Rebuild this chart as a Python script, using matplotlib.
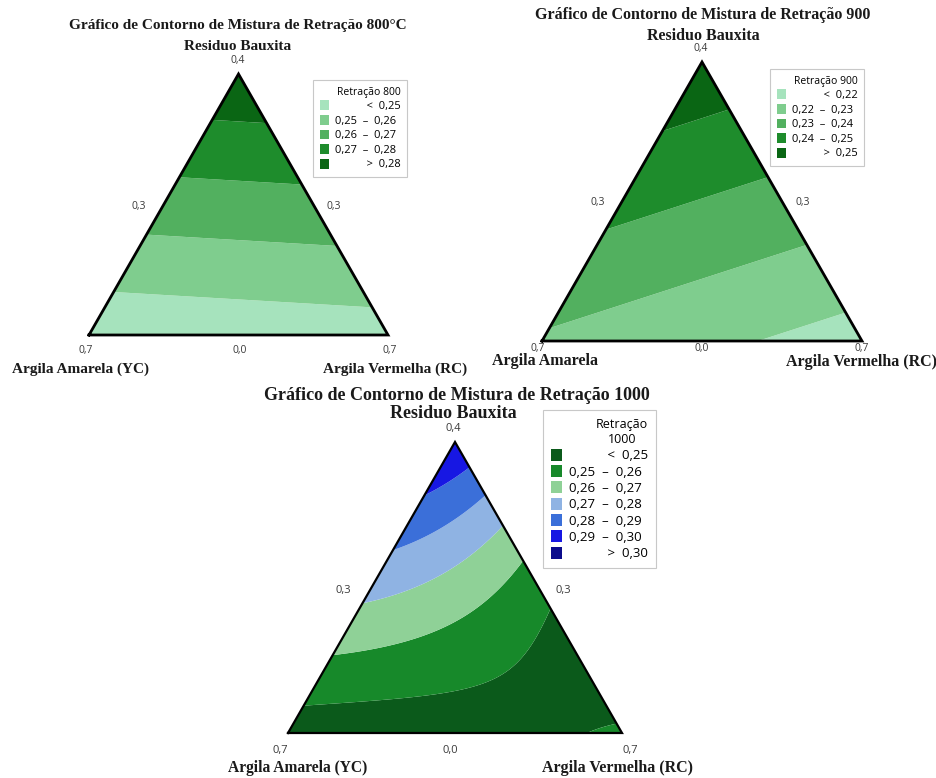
import numpy as np
import matplotlib.pyplot as plt
import matplotlib.tri as mtri
from matplotlib.patches import Patch

W, H = 937, 778
S3 = np.sqrt(3) / 2

# mixture model coefficients (RB, YC, RC, RB*YC, RB*RC, YC*RC, RB*RC*(RB-RC), RB*YC*RC)
coef_800 = [0.288, 0.2425, 0.2455, 0.0, 0.0, 0.0, 0.0, 0.0]
coef_900 = [0.257, 0.2287, 0.2158, 0.0, 0.0, 0.0, 0.0, 0.0]
coef_1000 = [0.2995, 0.2445, 0.2519, 0.004, -0.0875, -0.012, 0.024, 0.082]

levels_800 = [0.25, 0.26, 0.27, 0.28]
levels_900 = [0.22, 0.23, 0.24, 0.25]
levels_1000 = [0.25, 0.26, 0.27, 0.28, 0.29, 0.30]

greens = ['#a6e3bd', '#7fcd8e', '#52b05f', '#1e8c2c', '#0a6614']
colors_1000 = ['#0b5a1b', '#17892a', '#8fd197', '#8fb3e3',
               '#3b6fd9', '#1717e3', '#0c0c8c']

top_tick, side_tick, base_tick, corner_tick = '0,4', '0,3', '0,0', '0,7'

SERIF = 'Liberation Serif'
SANS = 'Open Sans'


def px(x, y):
    return x / W, 1 - y / H


def simplex_grid(n=180):
    pts = [(i / n, j / n) for i in range(n + 1) for j in range(n + 1 - i)]
    a, c = np.array(pts).T
    b = np.clip(1 - a - c, 0, 1)
    return a, b, c


def response(k, a, b, c):
    return (k[0]*a + k[1]*b + k[2]*c + k[3]*a*b + k[4]*a*c + k[5]*b*c
            + k[6]*a*c*(a - c) + k[7]*a*b*c)


def fmt(v):
    return f'{v:.2f}'.replace('.', ',')


def legend_labels(levels):
    labels = [' ' * 11 + '<  ' + fmt(levels[0])]
    for lo, hi in zip(levels[:-1], levels[1:]):
        labels.append(f'{fmt(lo)}  \u2013  {fmt(hi)}')
    labels.append(' ' * 11 + '>  ' + fmt(levels[-1]))
    return labels


def draw_triangle(fig, left, right, base, apex, coef, levels, colors, lw=2):
    ax = fig.add_axes([left / W, 1 - base / H, (right - left) / W, (base - apex) / H])
    a, b, c = simplex_grid()
    x = c + a / 2
    y = a * S3
    tri = mtri.Triangulation(x, y)
    z = response(coef, a, b, c)
    ax.tricontourf(tri, z, levels=[-1] + levels + [2], colors=colors, antialiased=True)
    ax.plot([0, 1, 0.5, 0], [0, 0, S3, 0], color='black', lw=lw, clip_on=False,
            solid_joinstyle='miter')
    ax.set_xlim(0, 1)
    ax.set_ylim(0, S3)
    ax.axis('off')
    return ax


def add_legend(fig, levels, colors, title, x, y, size, title_size, spacing=0.25):
    handles = [Patch(facecolor=col, edgecolor='none') for col in colors]
    leg = fig.legend(handles, legend_labels(levels), title=title,
                     loc='upper left', bbox_to_anchor=px(x, y),
                     bbox_transform=fig.transFigure, frameon=True, fancybox=False,
                     edgecolor='#c8c8c8', framealpha=1,
                     prop={'family': SANS, 'size': size},
                     title_fontproperties={'family': SANS, 'size': title_size},
                     alignment='right', handlelength=0.85, handleheight=1.0,
                     handletextpad=0.5, labelspacing=spacing, borderpad=0.6,
                     borderaxespad=0)
    leg.get_frame().set_linewidth(0.8)
    leg.get_title().set_multialignment('center')
    return leg


def tick(x, y, s, size=7.5):
    fig.text(*px(x, y), s, ha='center', va='center', family=SANS,
             fontsize=size, color='#3a3a3a')


def label(x, y, s, ha='center', size=11):
    fig.text(*px(x, y), s, ha=ha, va='center', family=SERIF,
             fontweight='bold', fontsize=size, color='#1a1a1a')


fig = plt.figure(figsize=(W / 100, H / 100), dpi=100)

# 800 °C
draw_triangle(fig, 89, 388, 335, 74, coef_800, levels_800, greens)
label(238, 26, 'Gráfico de Contorno de Mistura de Retração 800°C', size=11)
label(238, 47, 'Residuo Bauxita', size=11)
tick(238, 61, top_tick)
tick(139, 206, side_tick)
tick(334, 206, side_tick)
tick(86, 350, corner_tick)
tick(240, 350, base_tick)
tick(390, 350, corner_tick)
label(12, 369, 'Argila Amarela (YC)', ha='left')
label(467, 369, 'Argila Vermelha (RC)', ha='right')
add_legend(fig, levels_800, greens, 'Retração 800', 313, 80, 8, 7.5)

# 900 °C
draw_triangle(fig, 542, 862, 341, 62, coef_900, levels_900, greens)
label(703, 15, 'Gráfico de Contorno de Mistura de Retração 900', size=11.5)
label(703, 36, 'Residuo Bauxita', size=11.5)
tick(701, 49, top_tick)
tick(598, 202, side_tick)
tick(803, 202, side_tick)
tick(538, 349, corner_tick)
tick(702, 349, base_tick)
tick(862, 349, corner_tick)
label(492, 361, 'Argila Amarela', ha='left', size=11.5)
label(937, 362, 'Argila Vermelha (RC)', ha='right', size=11.5)
add_legend(fig, levels_900, greens, 'Retração 900', 770, 69, 8, 7.5)

# 1000 °C
draw_triangle(fig, 288, 622, 733, 442, coef_1000, levels_1000, colors_1000, lw=1.6)
label(457, 395, 'Gráfico de Contorno de Mistura de Retração 1000', size=13)
label(453, 413, 'Residuo Bauxita', size=13)
tick(453, 428, top_tick, 8)
tick(343, 590, side_tick, 8)
tick(563, 590, side_tick, 8)
tick(280, 750, corner_tick, 8)
tick(450, 750, base_tick, 8)
tick(630, 750, corner_tick, 8)
label(367, 768, 'Argila Amarela (YC)', ha='right', size=11.2)
label(542, 768, 'Argila Vermelha (RC)', ha='left', size=11.5)
add_legend(fig, levels_1000, colors_1000, 'Retração\n1000', 543, 410, 9.5, 9, 0.22)

fig.savefig('out.png', dpi=100, facecolor='white')
